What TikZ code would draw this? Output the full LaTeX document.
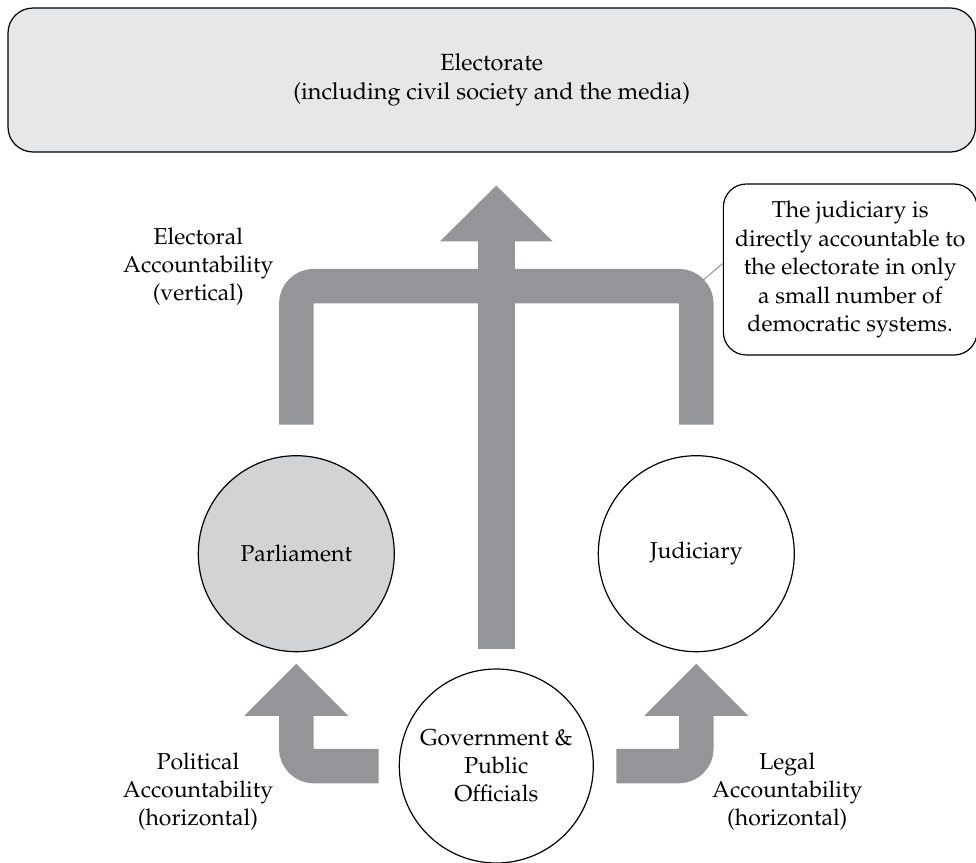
\documentclass[tikz,border=0pt]{standalone}
\usepackage[T1]{fontenc}
\usepackage{mathpazo}
\usetikzlibrary{calc, positioning, arrows.meta}

\definecolor{arrowgray}{HTML}{939598}
\definecolor{parlgray}{HTML}{D1D3D4}
\definecolor{electgray}{HTML}{E6E7E8}

\begin{document}
\begin{tikzpicture}[
    x=0.5pt, y=0.5pt,
    font=\fontsize{11.5}{14}\selectfont,
    body/.style={draw, circle, line width=0.6pt, minimum size=98pt, inner sep=0pt, align=center},
    acclabel/.style={align=center, inner sep=0pt},
    bracket/.style={draw=arrowgray, line width=17.25pt, rounded corners=8.75pt},
    fatarrow/.style={bracket, -{Triangle[width=52pt, length=26pt, line width=0pt]}},
    bigarrow/.style={draw=arrowgray, line width=18.5pt, -{Triangle[width=56.3pt, length=27.85pt, line width=0pt]}}
]
    \useasboundingbox (0,0) rectangle (976,-863);

    % Electorate box
    \node[draw, fill=electgray, rounded corners=12.5pt, line width=0.6pt, minimum width=483.75pt, minimum height=72pt, align=center, font=\fontsize{11.7}{14.5}\selectfont] (elect) at (491.75,-80) {Electorate\\(including civil society and the media)};

    % Institutions
    \node[body, fill=parlgray] (parl) at (296.3,-553.7) {Parliament};
    \node[body] (jud) at (696.3,-553.7) {Judiciary};
    \node[body, minimum size=97pt] (gov) at (496.3,-766) {Government \&\\Public\\Officials};

    % Electoral accountability (vertical)
    \coordinate (bar) at (496.5,-286.2);
    \draw[bracket] ($(parl.north)+(0,30.4)$) |- (bar) -| ($(jud.north)+(0,30.4)$);
    \draw[bigarrow] ($(gov.north)+(0,19.7)$) -- ($(gov.north |- elect.south)+(0,-33)$);

    % Horizontal accountability
    \draw[fatarrow] ($(gov.west)+(-20,0)$) -| ($(parl.south)+(0,-11.6)$);
    \draw[fatarrow] ($(gov.east)+(22.4,0)$) -| ($(jud.south)+(0,-11.6)$);

    % Labels
    \node[acclabel] (elacc) at (198.3,-267) {Electoral\\Accountability\\(vertical)};
    \node[acclabel] (polacc) at (198,-792) {Political\\Accountability\\(horizontal)};
    \node[acclabel] (legacc) at (787.3,-791.7) {Legal\\Accountability\\(horizontal)};

    % Note on the judiciary
    \node[draw, rounded corners=11.5pt, line width=0.6pt, minimum width=126.85pt, minimum height=85.5pt, inner sep=1pt, align=center, font=\fontsize{11.5}{14.25}\selectfont] (note) at (850.2,-269.5) {The judiciary is\\directly accountable to\\the electorate in only\\a small number of\\democratic systems.};
    \coordinate (bend) at (703.3,-280);
    \draw[arrowgray, line width=0.5pt] (bend) -- ($(note.west)+(0,6)$);

\end{tikzpicture}
\end{document}
